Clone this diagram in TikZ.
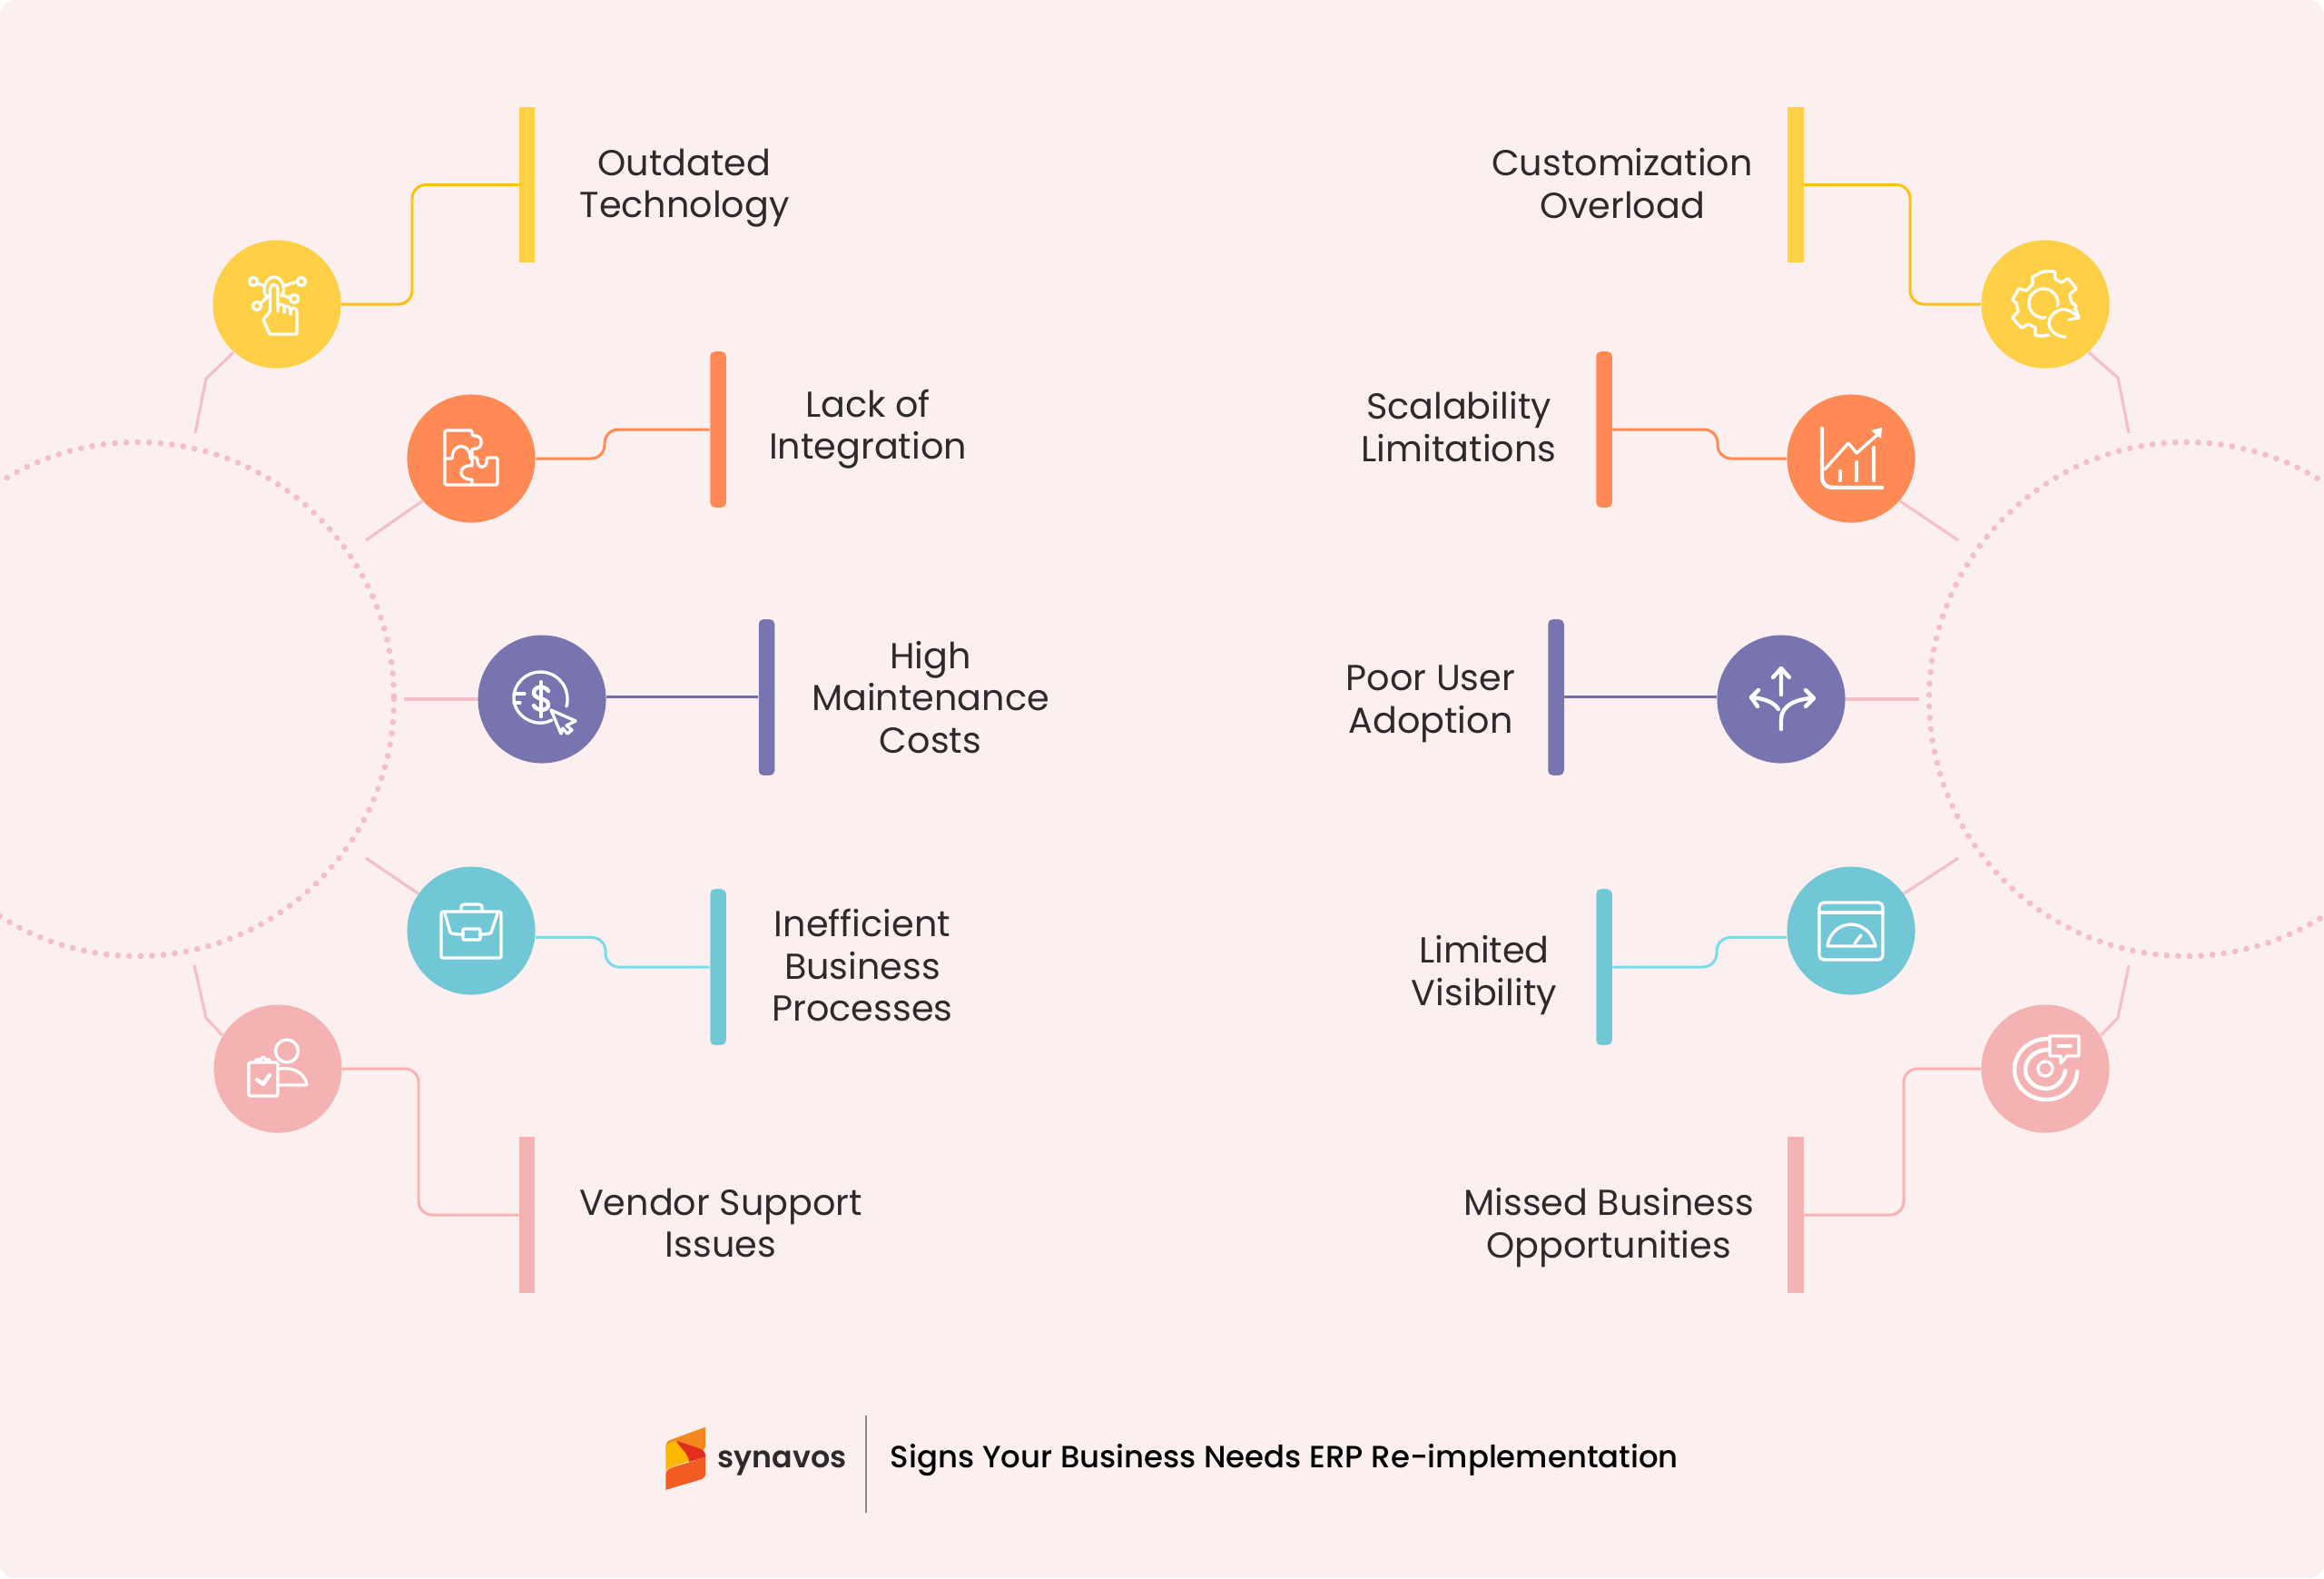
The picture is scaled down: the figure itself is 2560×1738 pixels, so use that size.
\documentclass[tikz,border=0pt]{standalone}
\usepackage{fontspec}
\setmainfont{Poppins}
\newfontfamily\medfont{Poppins Medium}
\newfontfamily\semifont{Poppins SemiBold}
\definecolor{paper}{HTML}{FBF0EF}
\definecolor{ink}{HTML}{2E2A2B}
\definecolor{cyel}{HTML}{FFCF45}
\definecolor{cora}{HTML}{FF8A55}
\definecolor{cpur}{HTML}{7774B0}
\definecolor{ctea}{HTML}{72C7D6}
\definecolor{cpin}{HTML}{F5B2B3}
\definecolor{wyel}{HTML}{FFBF0A}
\definecolor{wpur}{HTML}{6F6DAE}
\definecolor{wtea}{HTML}{7ADCEB}
\definecolor{wpin}{HTML}{FBB1B1}
\definecolor{cstub}{HTML}{F4BFC6}
\definecolor{logoa}{HTML}{F58720}
\definecolor{logob}{HTML}{FFB800}
\definecolor{logoc}{HTML}{E42F1E}
\definecolor{logod}{HTML}{F25C22}
\tikzset{
ball/.style={circle, inner sep=0pt, minimum size=1.41cm},
tab/.style={rectangle, inner sep=0pt, minimum width=0.175cm, minimum height=1.715cm},
tabr/.style={tab, rounded corners=0.05cm},
wire/.style={line width=0.85pt, rounded corners=0.15cm},
stub/.style={cstub, line width=0.9pt},
icon/.style={draw=white, line width=0.95pt, line cap=round, line join=round},
iconb/.style={icon, line width=1.25pt},
label/.style={text=ink, align=center, inner sep=0pt, font=\fontsize{11.3}{13.2}\selectfont}
}

\begin{document}
\begin{tikzpicture}[x=0.01cm, y=-0.01cm]

\useasboundingbox (0,0) rectangle (2560,1738);
\fill[white] (0,0) rectangle (2560,1738);
\fill[paper, rounded corners=0.16cm] (0,0) rectangle (2560,1738);

% dotted rings at the two sides
\begin{scope}
\clip[rounded corners=0.16cm] (0,0) rectangle (2560,1738);
\foreach \x in {151, 2408} {
    \draw[cstub, line width=1.9pt, line cap=round, dash pattern=on 0pt off 3.58pt] (\x,770) circle (283);
}
\end{scope}

\foreach \n/\x/\y/\c in {A/305/335/cyel, B/519/505/cora, C/597/770/cpur, D/519/1025/ctea, E/306/1177/cpin,
    F/2253/335/cyel, G/2039/505/cora, H/1962/770/cpur, I/2039/1025/ctea, J/2253/1177/cpin} {
    \node[ball, fill=\c] (ball\n) at (\x,\y) {};
}

\foreach \n/\x/\y/\c in {A/580.5/203.5/cyel, E/580.5/1338/cpin, F/1978/203.5/cyel, J/1978/1338/cpin} {
    \node[tab, fill=\c] (bar\n) at (\x,\y) {};
}
\foreach \n/\x/\y/\c in {B/791/473/cora, C/844.5/768/cpur, D/791/1065/ctea, G/1767/473/cora, H/1714/768/cpur, I/1767/1065/ctea} {
    \node[tabr, fill=\c] (bar\n) at (\x,\y) {};
}

% wires
\draw[wire, wyel] (ballA.east) -| (454,203.5) -- (barA.west);
\draw[wire, cora] (ballB.east) -| (666,473) -- (barB.west);
\draw[wire, wpur] (ballC.2) -- (ballC.2 -| barC.west);
\draw[wire, wtea] (ballD.-6) -| (667,1065) -- (barD.west);
\draw[wire, wpin] (ballE.east) -| (461,1338) -- (barE.west);
\draw[wire, wyel] (ballF.west) -| (2104,203.5) -- (barF.east);
\draw[wire, cora] (ballG.west) -| (1892,473) -- (barG.east);
\draw[wire, wpur] (ballH.178) -- (ballH.178 -| barH.east);
\draw[wire, wtea] (ballI.-174) -| (1891,1065) -- (barI.east);
\draw[wire, wpin] (ballJ.west) -| (2097,1338) -- (barJ.east);

% stubs towards the rings
\coordinate (kneeA) at (227,417);
\coordinate (endA) at (215,477);
\coordinate (endB) at (403,595);
\coordinate (endC) at (445,770);
\coordinate (endD) at (403,945);
\coordinate (kneeE) at (227,1121);
\coordinate (endE) at (214,1063);
\coordinate (kneeF) at (2333,416);
\coordinate (endF) at (2345,477);
\coordinate (endG) at (2157,595);
\coordinate (endH) at (2114,770);
\coordinate (endI) at (2157,945);
\coordinate (kneeJ) at (2333,1121);
\coordinate (endJ) at (2345,1063);
\draw[stub] (ballA.-132) -- (kneeA) -- (endA);
\draw[stub] (ballB.-139) -- (endB);
\draw[stub] (ballC.west) -- (endC);
\draw[stub] (ballD.145) -- (endD);
\draw[stub] (ballE.149) -- (kneeE) -- (endE);
\draw[stub] (ballF.-48) -- (kneeF) -- (endF);
\draw[stub] (ballG.-41) -- (endG);
\draw[stub] (ballH.east) -- (endH);
\draw[stub] (ballI.35) -- (endI);
\draw[stub] (ballJ.31) -- (kneeJ) -- (endJ);

% labels
\node[label] (txtA) at (754,207) {Outdated\\Technology};
\node[label] (txtB) at (956,472.5) {Lack of\\Integration};
\node[label] (txtC) at (1025,768) {High\\Maintenance\\Costs};
\node[label] (txtD) at (950,1063) {Inefficient\\Business\\Processes};
\node[label] (txtE) at (794,1347) {Vendor Support\\Issues};
\node[label] (txtF) at (1787,202) {Customization\\Overload};
\node[label] (txtG) at (1607,470) {Scalability\\Limitations};
\node[label] (txtH) at (1576,775.5) {Poor User\\Adoption};
\node[label] (txtI) at (1635,1074) {Limited\\Visibility};
\node[label] (txtJ) at (1772,1352) {Missed Business\\Opportunities};

% touch icon
\begin{scope}[shift={(ballA.center)}]
\foreach \x/\y in {-26/-25, 27/-25, -22/2, 19/-6} {
    \draw[icon] (\x,\y) circle (4.5);
}
\draw[icon] (-22,-23) -- (-15,-21) (23,-25) -- (7,-20) (-18,-1) -- (-8,-10) (14.5,-7) -- (5,-10);
\draw[icon] (-12,-9) .. controls (-17,-16) and (-12,-30) .. (-3,-30) .. controls (6,-30) and (11,-16) .. (5,-9);
\draw[icon] (-7.5,8) -- (-7.5,-17) .. controls (-7.5,-23) and (1,-23) .. (1,-17) -- (1,8);
\draw[icon] (-7.5,8) -- (-15,17) -- (-8,33) -- (22,33) -- (22,8) .. controls (22,3) and (15,3) .. (15,8);
\draw[icon] (1,3) .. controls (3,-1) and (8,-1) .. (8,4) (8,4) .. controls (9,1) and (15,1) .. (15,8);
\draw[icon] (8,4) -- (8,9) (15,8) -- (15,11);
\end{scope}

% puzzle icon
\begin{scope}[shift={(ballB.center)}]
\draw[icon, rounded corners=0.02cm] (-29,-31) -- (1,-31) -- (1,-25) .. controls (14,-26) and (14,-10) .. (1,-11) -- (1,-1) -- (7,-1)
    .. controls (6,12) and (18,12) .. (17,-1) -- (29,-1) -- (29,29) -- (-29,29) -- cycle;
\draw[icon] (-29,0) -- (-21,0) .. controls (-21,-18) and (-1,-18) .. (-1,0) -- (1,0) -- (1,8) .. controls (-15,6) and (-15,24) .. (1,23) -- (1,29);
\end{scope}

% dollar icon
\begin{scope}[shift={(ballC.center)}]
\draw[icon] (11,23) .. controls (-8,33) and (-31,18) .. (-31,-1) .. controls (-31,-18) and (-17,-30) .. (-2,-30)
    .. controls (15,-30) and (28,-17) .. (28,0) .. controls (28,3) and (28,5) .. (27,8);
\draw[icon] (-31,-6) -- (-19,-6) (-31,4) -- (-24,4);
\draw[iconb] (7,-9) .. controls (4,-15) and (-9,-15) .. (-9,-7) .. controls (-9,1) and (7,-2) .. (7,6) .. controls (7,14) and (-6,13) .. (-9,7);
\draw[iconb] (-1,-19) -- (-1,19);
\draw[icon] (10,12) -- (37,24) -- (27,29) -- (33,34) -- (28,38) -- (23,32) -- (21,38) -- cycle;
\end{scope}

% briefcase icon
\begin{scope}[shift={(ballD.center)}]
\draw[icon, rounded corners=0.02cm] (-33,-21) rectangle (33,30);
\draw[icon, rounded corners=0.03cm] (-11,-21) -- (-11,-29) -- (12,-29) -- (12,-21);
\draw[icon] (-29,-19) -- (-23,2) .. controls (-21,4) and (-14,4) .. (-9,4) (29,-19) -- (22,2) .. controls (20,4) and (15,4) .. (10,4);
\draw[icon, rounded corners=0.01cm] (-9,-2) rectangle (10,10);
\end{scope}

% clipboard and person icon
\begin{scope}[shift={(ballE.center)}]
\draw[icon] (10,-19.5) circle (12.5);
\draw[icon] (2,0) .. controls (20,-2) and (30,6) .. (32,18) -- (0,18);
\draw[icon, rounded corners=0.02cm] (-32,-7) rectangle (0,30);
\draw[icon] (-24,-7) -- (-24,-10) -- (-19,-10) -- (-16,-13) -- (-13,-10) -- (-9,-10) -- (-9,-7);
\draw[iconb] (-23,12) -- (-16,17) -- (-9,7);
\end{scope}

% gear icon
\begin{scope}[shift={(ballF.center)}]
\draw[icon] plot[smooth cycle, tension=0.15] coordinates {
    (-2,-36) (10,-36) (11,-28) (18,-24) (25,-28) (34,-17) (27,-11) (29,-2) (34,2)
    (27,13) (20,11) (14,18) (16,26) (8,33) (-3,35) (-11,34) (-11,26) (-19,22) (-26,26) (-36,15) (-30,8) (-32,-1) (-36,-5) (-29,-17) (-21,-15) (-14,-22) (-14,-30)};
\draw[icon] (-2,-1) circle (16);
\fill[cyel] (19,21) circle (19);
\draw[icon] (26,7) .. controls (15,2) and (4,12) .. (4,21) .. controls (4,29) and (13,36) .. (22,36);
\draw[icon] (26,7) .. controls (30,9) and (33,11) .. (37,15) (37,15) -- (26,17) (37,15) -- (33,4);
\end{scope}

% growth chart icon
\begin{scope}[shift={(ballG.center)}]
\draw[iconb] (-32,-33) -- (-32,20) .. controls (-32,28) and (-27,32) .. (-20,32) -- (34,32);
\draw[icon] (-29,12) -- (-3,-17) -- (6,-6) -- (31,-28);
\fill[white] (34,-34) -- (33,-22) -- (22,-31) -- cycle;
\draw[iconb] (-12,14) -- (-12,24) (6,4) -- (6,24) (25,-12) -- (25,24);
\end{scope}

% three arrows icon
\begin{scope}[shift={(ballH.center)}]
\draw[iconb] (0,-5) -- (0,-34) (-9,-24) -- (0,-34) -- (9,-24);
\draw[iconb] (-3,11) .. controls (-8,3) and (-20,-1) .. (-33,-2) (-25,-10) -- (-33,-2) -- (-26,8);
\draw[iconb] (0,33) -- (0,22) .. controls (0,8) and (16,-1) .. (36,-1) (27,-10) -- (36,-1) -- (27,8);
\end{scope}

% gauge icon
\begin{scope}[shift={(ballI.center)}]
\draw[icon, rounded corners=0.05cm] (-35,-31) rectangle (35,32);
\draw[icon] (-35,-20) -- (35,-20);
\draw[icon] (-26,17) -- (27,17) .. controls (24,2) and (12,-7) .. (0,-7) .. controls (-12,-7) and (-24,2) .. (-26,17);
\draw[icon] (4,14) -- (11,5);
\end{scope}

% target icon
\begin{scope}[shift={(ballJ.center)}]
\draw[icon] (0,0) circle (8);
\draw[iconb] (3,-33) .. controls (-18,-33) and (-34,-18) .. (-34,1) .. controls (-34,20) and (-18,34) .. (1,34) .. controls (20,34) and (35,20) .. (35,3);
\draw[iconb] (3,-21) .. controls (-10,-21) and (-22,-12) .. (-22,1) .. controls (-22,14) and (-10,22) .. (1,22) .. controls (11,22) and (20,14) .. (22,2);
\draw[icon] (5,-36) -- (37,-36) -- (37,-14) -- (24,-14) -- (17,-6) -- (17,-14) -- (5,-14) -- cycle;
\draw[icon] (14,-25) -- (28,-25);
\end{scope}

% logo
\begin{scope}[shift={(700,1530)}, x=0.00333cm, y=-0.00333cm]
\fill[logoa] (232,125) -- (232,180) .. controls (232,195) and (228,200) .. (222,204) -- (135,170) .. controls (120,175) and (108,185) .. (100,195) .. controls (100,178) and (105,172) .. (115,168) -- cycle;
\fill[logob] (100,190) .. controls (105,180) and (120,172) .. (135,170) .. controls (145,195) and (172,205) .. (178,238) -- (118,258) .. controls (108,262) and (103,266) .. (100,272) -- cycle;
\fill[logoc] (135,170) -- (215,197) .. controls (228,202) and (232,212) .. (232,225) -- (178,240) .. controls (172,205) and (145,195) .. (135,170) -- cycle;
\fill[logod] (232,225) -- (232,280) .. controls (232,290) and (226,295) .. (218,298) -- (100,333) -- (100,285) .. controls (100,270) and (108,264) .. (118,260) -- cycle;
\end{scope}

\node[anchor=base west, inner sep=0pt, text=ink] (brand) at (790,1616) {\semifont\fontsize{9.45}{12}\selectfont synavos};
\coordinate (ruleT) at (954,1559);
\coordinate (ruleB) at (954,1666);
\draw[ink!55, line width=0.5pt] (ruleT) -- (ruleB);
\node[anchor=base west, inner sep=0pt, text=black] (title) at (980,1616) {\medfont\fontsize{9.64}{12}\selectfont Signs Your Business Needs ERP Re-implementation};

\end{tikzpicture}
\end{document}
